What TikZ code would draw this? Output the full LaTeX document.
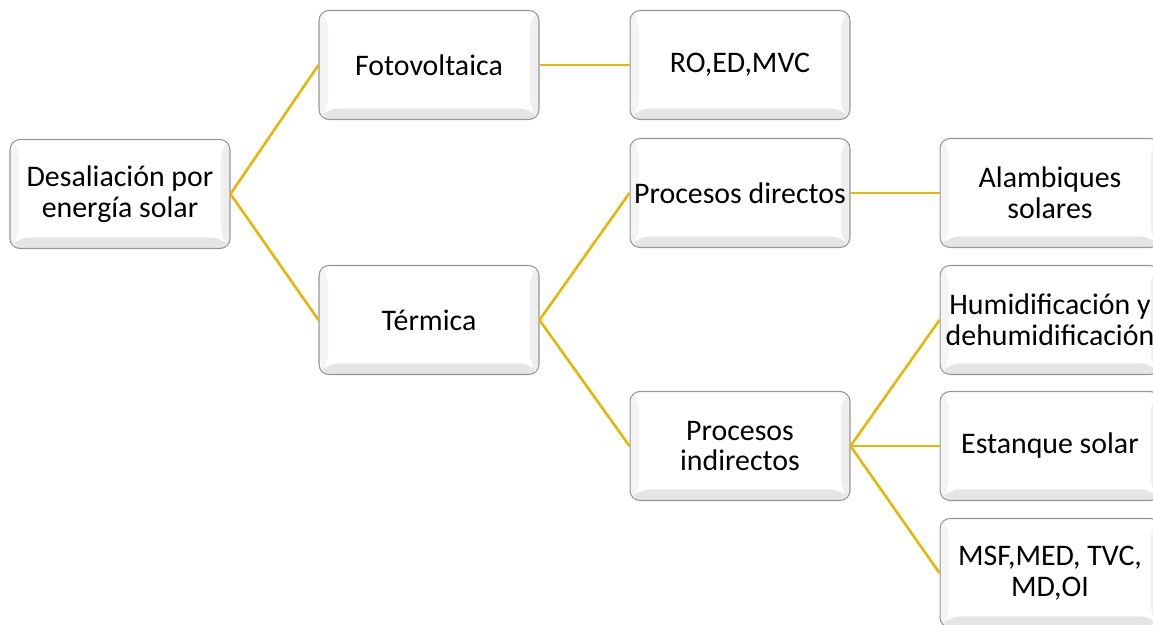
\documentclass[tikz,border=0pt]{standalone}
\usepackage{fontspec}
\setmainfont{Carlito}
\definecolor{linkgold}{RGB}{229,183,10}
\definecolor{rimgray}{RGB}{150,150,150}
\tikzset{
  link/.style={draw=linkgold, line width=1.5pt},
  bevel/.style={
    rectangle, rounded corners=0.2cm, draw=rimgray, line width=0.6pt,
    fill=white, minimum width=4.4cm, minimum height=2.18cm,
    align=center, text=black, inner sep=0pt,
    font=\fontsize{17}{17.6}\selectfont,
    path picture={
      \coordinate (bnw) at (path picture bounding box.north west);
      \coordinate (bne) at (path picture bounding box.north east);
      \coordinate (bsw) at (path picture bounding box.south west);
      \coordinate (bse) at (path picture bounding box.south east);
      % side facets of the bevel
      \fill[gray!9] (bnw) -- (bsw) -- ([shift={(0.18cm,0.22cm)}]bsw) -- ([shift={(0.18cm,-0.18cm)}]bnw) -- cycle;
      \fill[gray!13] (bne) -- (bse) -- ([shift={(-0.18cm,0.22cm)}]bse) -- ([shift={(-0.18cm,-0.18cm)}]bne) -- cycle;
      \fill[gray!20] (bsw) -- (bse) -- ([shift={(-0.18cm,0.22cm)}]bse) -- ([shift={(0.18cm,0.22cm)}]bsw) -- cycle;
      \fill[white] (bnw) -- (bne) -- ([shift={(-0.18cm,-0.18cm)}]bne) -- ([shift={(0.18cm,-0.18cm)}]bnw) -- cycle;
    }
  }
}
\begin{document}
\begin{tikzpicture}[x=0.02cm, y=-0.02cm]
  \useasboundingbox (0,0) rectangle (1153,625);
  \clip (0,0) rectangle (1153,625);

  % boxes
  \node[bevel] (root)  at (120,194) {Desaliación por\\energía solar};
  \node[bevel] (foto)  at (429,65)  {Fotovoltaica};
  \node[bevel] (term)  at (429,320) {Térmica};
  \node[bevel] (ro)    at (740,65)  {RO,ED,MVC};
  \node[bevel] (pdir)  at (740,193) {Procesos directos};
  \node[bevel] (pind)  at (740,446) {Procesos\\indirectos};
  \node[bevel] (alam)  at (1050,193) {Alambiques\\solares};
  \node[bevel] (humid) at (1050,320) {Humidificación y\\dehumidificación};
  \node[bevel] (estq)  at (1050,446) {Estanque solar};
  \node[bevel] (msf)   at (1050,573) {MSF,MED, TVC,\\MD,OI};

  % connectors
  \draw[link] (root.east) -- (foto.west);
  \draw[link] (root.east) -- (term.west);
  \draw[link] (foto.east) -- (ro.west);
  \draw[link] (term.east) -- (pdir.west);
  \draw[link] (term.east) -- (pind.west);
  \draw[link] (pdir.east) -- (alam.west);
  \draw[link] (pind.east) -- (humid.west);
  \draw[link] (pind.east) -- (estq.west);
  \draw[link] (pind.east) -- (msf.west);
\end{tikzpicture}
\end{document}
